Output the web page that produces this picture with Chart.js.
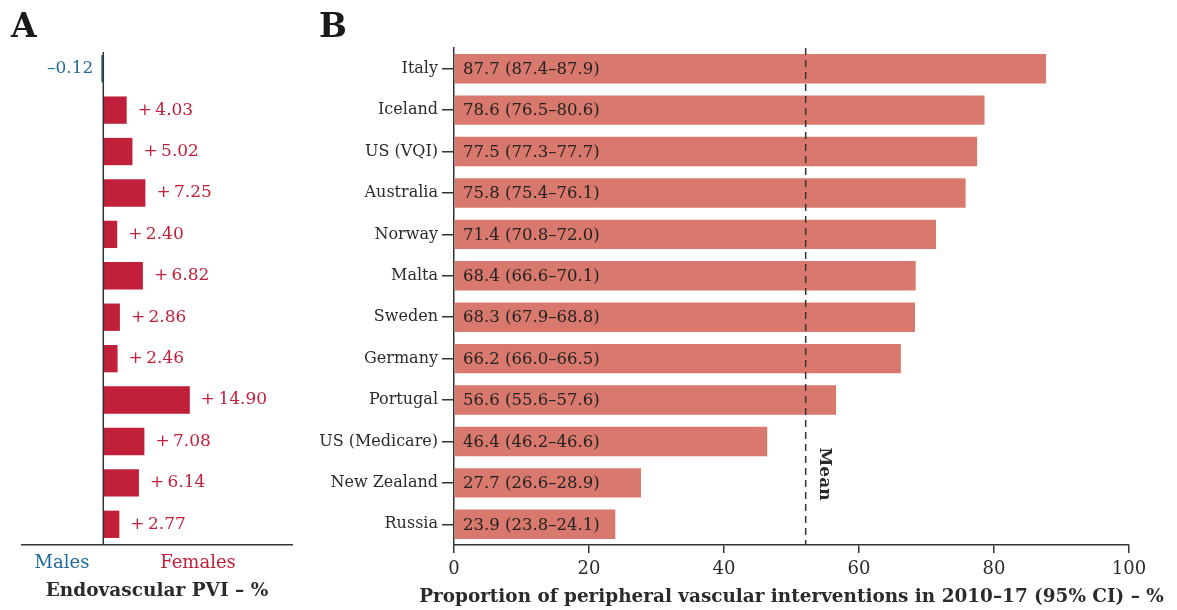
<!DOCTYPE html>
<html>
<head>
<meta charset="utf-8">
<script src="https://cdn.jsdelivr.net/npm/chart.js@4.4.1/dist/chart.umd.min.js"></script>
<style>
  html, body { margin: 0; padding: 0; background: #fff; }
  #wrap { position: relative; width: 1177px; height: 610px; }
  #ca { position: absolute; left: 0; top: 0; }
  #cb { position: absolute; left: 300px; top: 0; }
</style>
</head>
<body>
<div id="wrap">
  <canvas id="ca" width="300" height="610"></canvas>
  <canvas id="cb" width="877" height="610"></canvas>
</div>
<script>
const countries = ["Italy", "Iceland", "US (VQI)", "Australia", "Norway", "Malta", "Sweden", "Germany", "Portugal", "US (Medicare)", "New Zealand", "Russia"];
const proportions = [87.7, 78.6, 77.5, 75.8, 71.4, 68.4, 68.3, 66.2, 56.6, 46.4, 27.7, 23.9];
const ciLow = [87.4, 76.5, 77.3, 75.4, 70.8, 66.6, 67.9, 66.0, 55.6, 46.2, 26.6, 23.8];
const ciHigh = [87.9, 80.6, 77.7, 76.1, 72.0, 70.1, 68.8, 66.5, 57.6, 46.6, 28.9, 24.1];
const femaleDiff = [-0.12, 4.03, 5.02, 7.25, 2.40, 6.82, 2.86, 2.46, 14.90, 7.08, 6.14, 2.77];
const meanValue = 52.1;
const xTicksB = [0, 20, 40, 60, 80, 100];
const xTitleB = 'Proportion of peripheral vascular interventions in 2010\u201317 (95% CI) \u2013 %';

const SERIF = "'DejaVu Serif', serif";
const INK = '#2b2b2b';
const RED = '#c0203a';
const BLUE = '#1f6a9c';
const SALMON = '#d9796e';

Chart.defaults.font.family = SERIF;
Chart.defaults.color = INK;

/* ---------- Panel A ---------- */
const panelAPlugin = {
  id: 'panelA',
  afterDatasetsDraw(chart) {
    const ctx = chart.ctx;
    const xs = chart.scales.x;
    const area = chart.chartArea;
    const x0 = xs.getPixelForValue(0);
    ctx.save();
    ctx.strokeStyle = '#333';
    ctx.lineWidth = 1.5;
    ctx.beginPath();
    ctx.moveTo(x0, area.top + 4);
    ctx.lineTo(x0, area.bottom);
    ctx.stroke();
    ctx.font = "17px " + SERIF;
    ctx.textBaseline = 'middle';
    const meta = chart.getDatasetMeta(0);
    meta.data.forEach((bar, i) => {
      const v = femaleDiff[i];
      if (v < 0) {
        ctx.fillStyle = BLUE;
        ctx.textAlign = 'right';
        ctx.fillText('\u2013' + Math.abs(v).toFixed(2), x0 - 10, bar.y);
      } else {
        ctx.fillStyle = RED;
        ctx.textAlign = 'left';
        ctx.fillText('+\u2009' + v.toFixed(2), bar.x + 11, bar.y);
      }
    });
    ctx.fillStyle = '#1a1a1a';
    ctx.textAlign = 'left';
    ctx.textBaseline = 'alphabetic';
    ctx.font = "bold 33px " + SERIF;
    ctx.fillText('A', 11, 37);
    ctx.font = "18px " + SERIF;
    ctx.textAlign = 'center';
    ctx.textBaseline = 'middle';
    ctx.fillStyle = BLUE;
    ctx.fillText('Males', 62, 563);
    ctx.fillStyle = RED;
    ctx.fillText('Females', 198, 563);
    ctx.fillStyle = INK;
    ctx.font = "bold 18.5px " + SERIF;
    ctx.fillText('Endovascular PVI \u2013 %', (area.left + area.right) / 2, 591);
    ctx.restore();
  }
};

new Chart(document.getElementById('ca'), {
  type: 'bar',
  data: {
    labels: countries,
    datasets: [{
      data: femaleDiff,
      backgroundColor: femaleDiff.map(v => v < 0 ? BLUE : RED),
      barPercentage: 0.66,
      categoryPercentage: 1,
      minBarLength: 2
    }]
  },
  options: {
    indexAxis: 'y',
    responsive: false,
    animation: false,
    layout: { padding: { top: 48, left: 22, right: 8, bottom: 0 } },
    plugins: { legend: { display: false }, tooltip: { enabled: false } },
    scales: {
      x: {
        min: -14, max: 32.5,
        ticks: { display: false },
        grid: { display: false },
        border: { display: true, color: '#333', width: 1.5 },
        afterFit(s) { s.height = 65; }
      },
      y: { display: false }
    }
  },
  plugins: [panelAPlugin]
});

/* ---------- Panel B ---------- */
const panelBPlugin = {
  id: 'panelB',
  afterDatasetsDraw(chart) {
    const ctx = chart.ctx;
    const xs = chart.scales.x;
    const area = chart.chartArea;
    const x0 = xs.getPixelForValue(0);
    ctx.save();
    ctx.font = "16.5px " + SERIF;
    ctx.fillStyle = '#222';
    ctx.textAlign = 'left';
    ctx.textBaseline = 'middle';
    const meta = chart.getDatasetMeta(0);
    meta.data.forEach((bar, i) => {
      const t = proportions[i].toFixed(1) + ' (' + ciLow[i].toFixed(1) + '\u2013' + ciHigh[i].toFixed(1) + ')';
      ctx.fillText(t, x0 + 9, bar.y + 1);
    });
    const xm = xs.getPixelForValue(meanValue);
    ctx.strokeStyle = '#333';
    ctx.lineWidth = 1.5;
    ctx.setLineDash([7, 5]);
    ctx.beginPath();
    ctx.moveTo(xm, area.top);
    ctx.lineTo(xm, area.bottom);
    ctx.stroke();
    ctx.setLineDash([]);
    ctx.save();
    ctx.translate(xm + 19, 474);
    ctx.rotate(Math.PI / 2);
    ctx.font = "bold 17px " + SERIF;
    ctx.textAlign = 'center';
    ctx.textBaseline = 'middle';
    ctx.fillStyle = INK;
    ctx.fillText('Mean', 0, 0);
    ctx.restore();
    // x-axis title (drawn directly so it is not squeezed to the chart-area width)
    ctx.font = "bold 20px " + SERIF;
    const w20 = ctx.measureText(xTitleB).width;
    const size = Math.min(20, 20 * 745 / w20);
    ctx.font = "bold " + size.toFixed(2) + "px " + SERIF;
    ctx.fillStyle = INK;
    ctx.textAlign = 'center';
    ctx.textBaseline = 'middle';
    ctx.fillText(xTitleB, (area.left + area.right) / 2, 597);
    ctx.fillStyle = '#1a1a1a';
    ctx.textAlign = 'left';
    ctx.textBaseline = 'alphabetic';
    ctx.font = "bold 33px " + SERIF;
    ctx.fillText('B', 19, 37);
    ctx.restore();
  }
};

new Chart(document.getElementById('cb'), {
  type: 'bar',
  data: {
    labels: countries,
    datasets: [{
      data: proportions,
      backgroundColor: SALMON,
      barPercentage: 0.71,
      categoryPercentage: 1
    }]
  },
  options: {
    indexAxis: 'y',
    responsive: false,
    animation: false,
    layout: { padding: { top: 48, left: 0, right: 48, bottom: 0 } },
    plugins: { legend: { display: false }, tooltip: { enabled: false } },
    scales: {
      x: {
        min: 0, max: 100,
        afterBuildTicks(s) { s.ticks = xTicksB.map(v => ({ value: v })); },
        ticks: { font: { size: 18 }, color: INK, padding: 6, maxRotation: 0 },
        grid: { drawOnChartArea: false, drawTicks: true, tickLength: 8, color: '#333', lineWidth: 1.5 },
        border: { display: true, color: '#333', width: 1.5 },
        afterFit(s) { s.height = 65; }
      },
      y: {
        ticks: { font: { size: 16 }, color: INK, padding: 4 },
        grid: { offset: false, drawOnChartArea: false, drawTicks: true, tickLength: 12, color: '#333', lineWidth: 1.5 },
        border: { display: true, color: '#333', width: 1.5 },
        afterFit(s) { s.width = 154; }
      }
    }
  },
  plugins: [panelBPlugin]
});
</script>
</body>
</html>
